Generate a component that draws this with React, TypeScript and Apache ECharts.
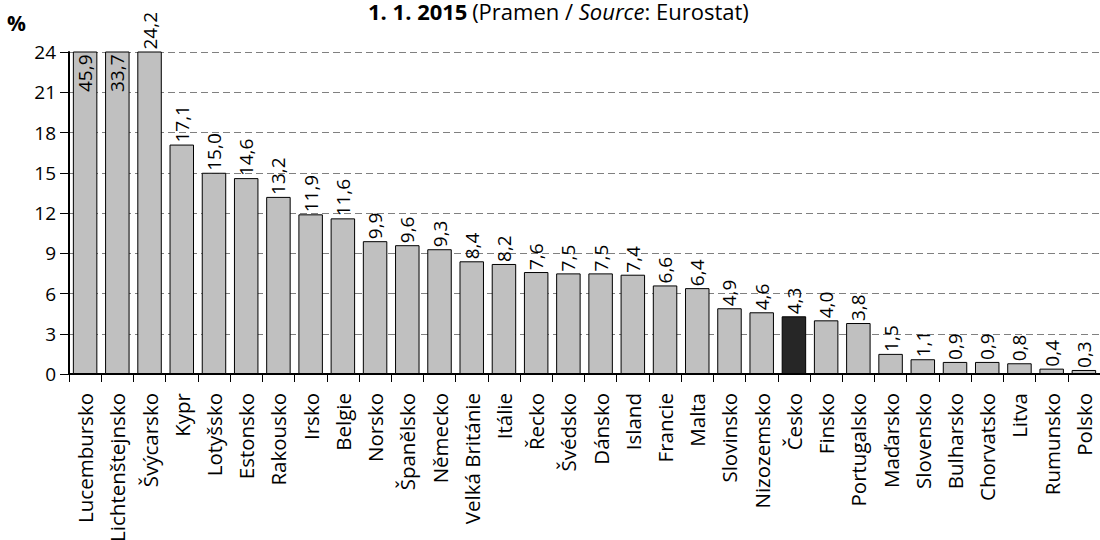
import React, { useEffect, useRef } from "react";
import * as echarts from "echarts";

const categories = [
  "Lucembursko", "Lichtenštejnsko", "Švýcarsko", "Kypr", "Lotyšsko", "Estonsko",
  "Rakousko", "Irsko", "Belgie", "Norsko", "Španělsko", "Německo", "Velká Británie",
  "Itálie", "Řecko", "Švédsko", "Dánsko", "Island", "Francie", "Malta", "Slovinsko",
  "Nizozemsko", "Česko", "Finsko", "Portugalsko", "Maďarsko", "Slovensko",
  "Bulharsko", "Chorvatsko", "Litva", "Rumunsko", "Polsko",
];
const values = [
  45.9, 33.7, 24.2, 17.1, 15.0, 14.6, 13.2, 11.9, 11.6, 9.9, 9.6, 9.3, 8.4,
  8.2, 7.6, 7.5, 7.5, 7.4, 6.6, 6.4, 4.9, 4.6, 4.3, 4.0, 3.8, 1.5, 1.1,
  0.9, 0.9, 0.8, 0.4, 0.3,
];
const highlight = "Česko";
const yMax = 24;
const yInterval = 3;

const FONT = "Open Sans";

export default function App() {
  const ref = useRef<HTMLDivElement>(null);
  useEffect(() => {
    if (!ref.current) return;
    const chart = echarts.init(ref.current, undefined, { renderer: "svg" });
    const fmt = (v: number) => v.toFixed(1).replace(".", ",");
    const data = values.map((v, i) => {
      const item: any = {
        value: v,
        itemStyle: {
          color: categories[i] === highlight ? "#262626" : "#c0c0c0",
          borderColor: "#000",
          borderWidth: 1,
        },
      };
      if (v > yMax + 1) {
        item.label = {
          position: "insideTop",
          align: "right",
          verticalAlign: "middle",
          distance: 3,
        };
      }
      return item;
    });
    chart.setOption({
      animation: false,
      textStyle: { fontFamily: FONT },
      title: {
        left: 368,
        top: 0,
        padding: 0,
        text: "{b|1. 1. 2015} {n|(Pramen / }{i|Source}{n|: Eurostat)}",
        textStyle: {
          fontWeight: "normal",
          rich: {
            b: { fontFamily: FONT, fontWeight: "bold", fontSize: 22, color: "#000" },
            n: { fontFamily: FONT, fontWeight: "normal", fontSize: 22, color: "#000" },
            i: { fontFamily: FONT, fontWeight: "normal", fontSize: 22, fontStyle: "italic", color: "#000" },
          },
        },
      },
      graphic: [
        {
          type: "text",
          left: 7,
          top: 12,
          style: { text: "%", fontFamily: FONT, fontWeight: "bold", fontSize: 21, fill: "#000" },
        },
      ],
      grid: { left: 69, right: 0, top: 52, bottom: 166, containLabel: false, outerBoundsMode: "none" },
      xAxis: {
        type: "category",
        data: categories,
        axisLine: { lineStyle: { color: "#000", width: 2 } },
        axisTick: { show: true, length: 8, lineStyle: { color: "#000", width: 1 } },
        axisLabel: {
          interval: 0,
          rotate: 90,
          fontSize: 20.5,
          fontFamily: FONT,
          color: "#000",
          margin: 19,
        },
      },
      yAxis: {
        type: "value",
        min: 0,
        max: yMax,
        interval: yInterval,
        axisLine: { show: true, lineStyle: { color: "#000", width: 2 } },
        axisTick: { show: true, length: 9, lineStyle: { color: "#000", width: 1 } },
        axisLabel: { fontSize: 19, fontFamily: FONT, color: "#000", margin: 13 },
        splitLine: { show: true, lineStyle: { color: "#808080", type: [7, 4], width: 1 } },
      },
      series: [
        {
          type: "bar",
          data,
          barCategoryGap: "24%",
          clip: true,
          label: {
            show: true,
            position: "top",
            rotate: 90,
            align: "left",
            verticalAlign: "middle",
            distance: 2,
            fontSize: 19,
            fontFamily: FONT,
            color: "#000",
            formatter: (p: any) => fmt(p.value),
          },
        },
      ],
    });
    return () => chart.dispose();
  }, []);
  return (
    <div
      ref={ref}
      style={{ position: "absolute", left: 0, top: 0, width: 1100, height: 540 }}
    />
  );
}
